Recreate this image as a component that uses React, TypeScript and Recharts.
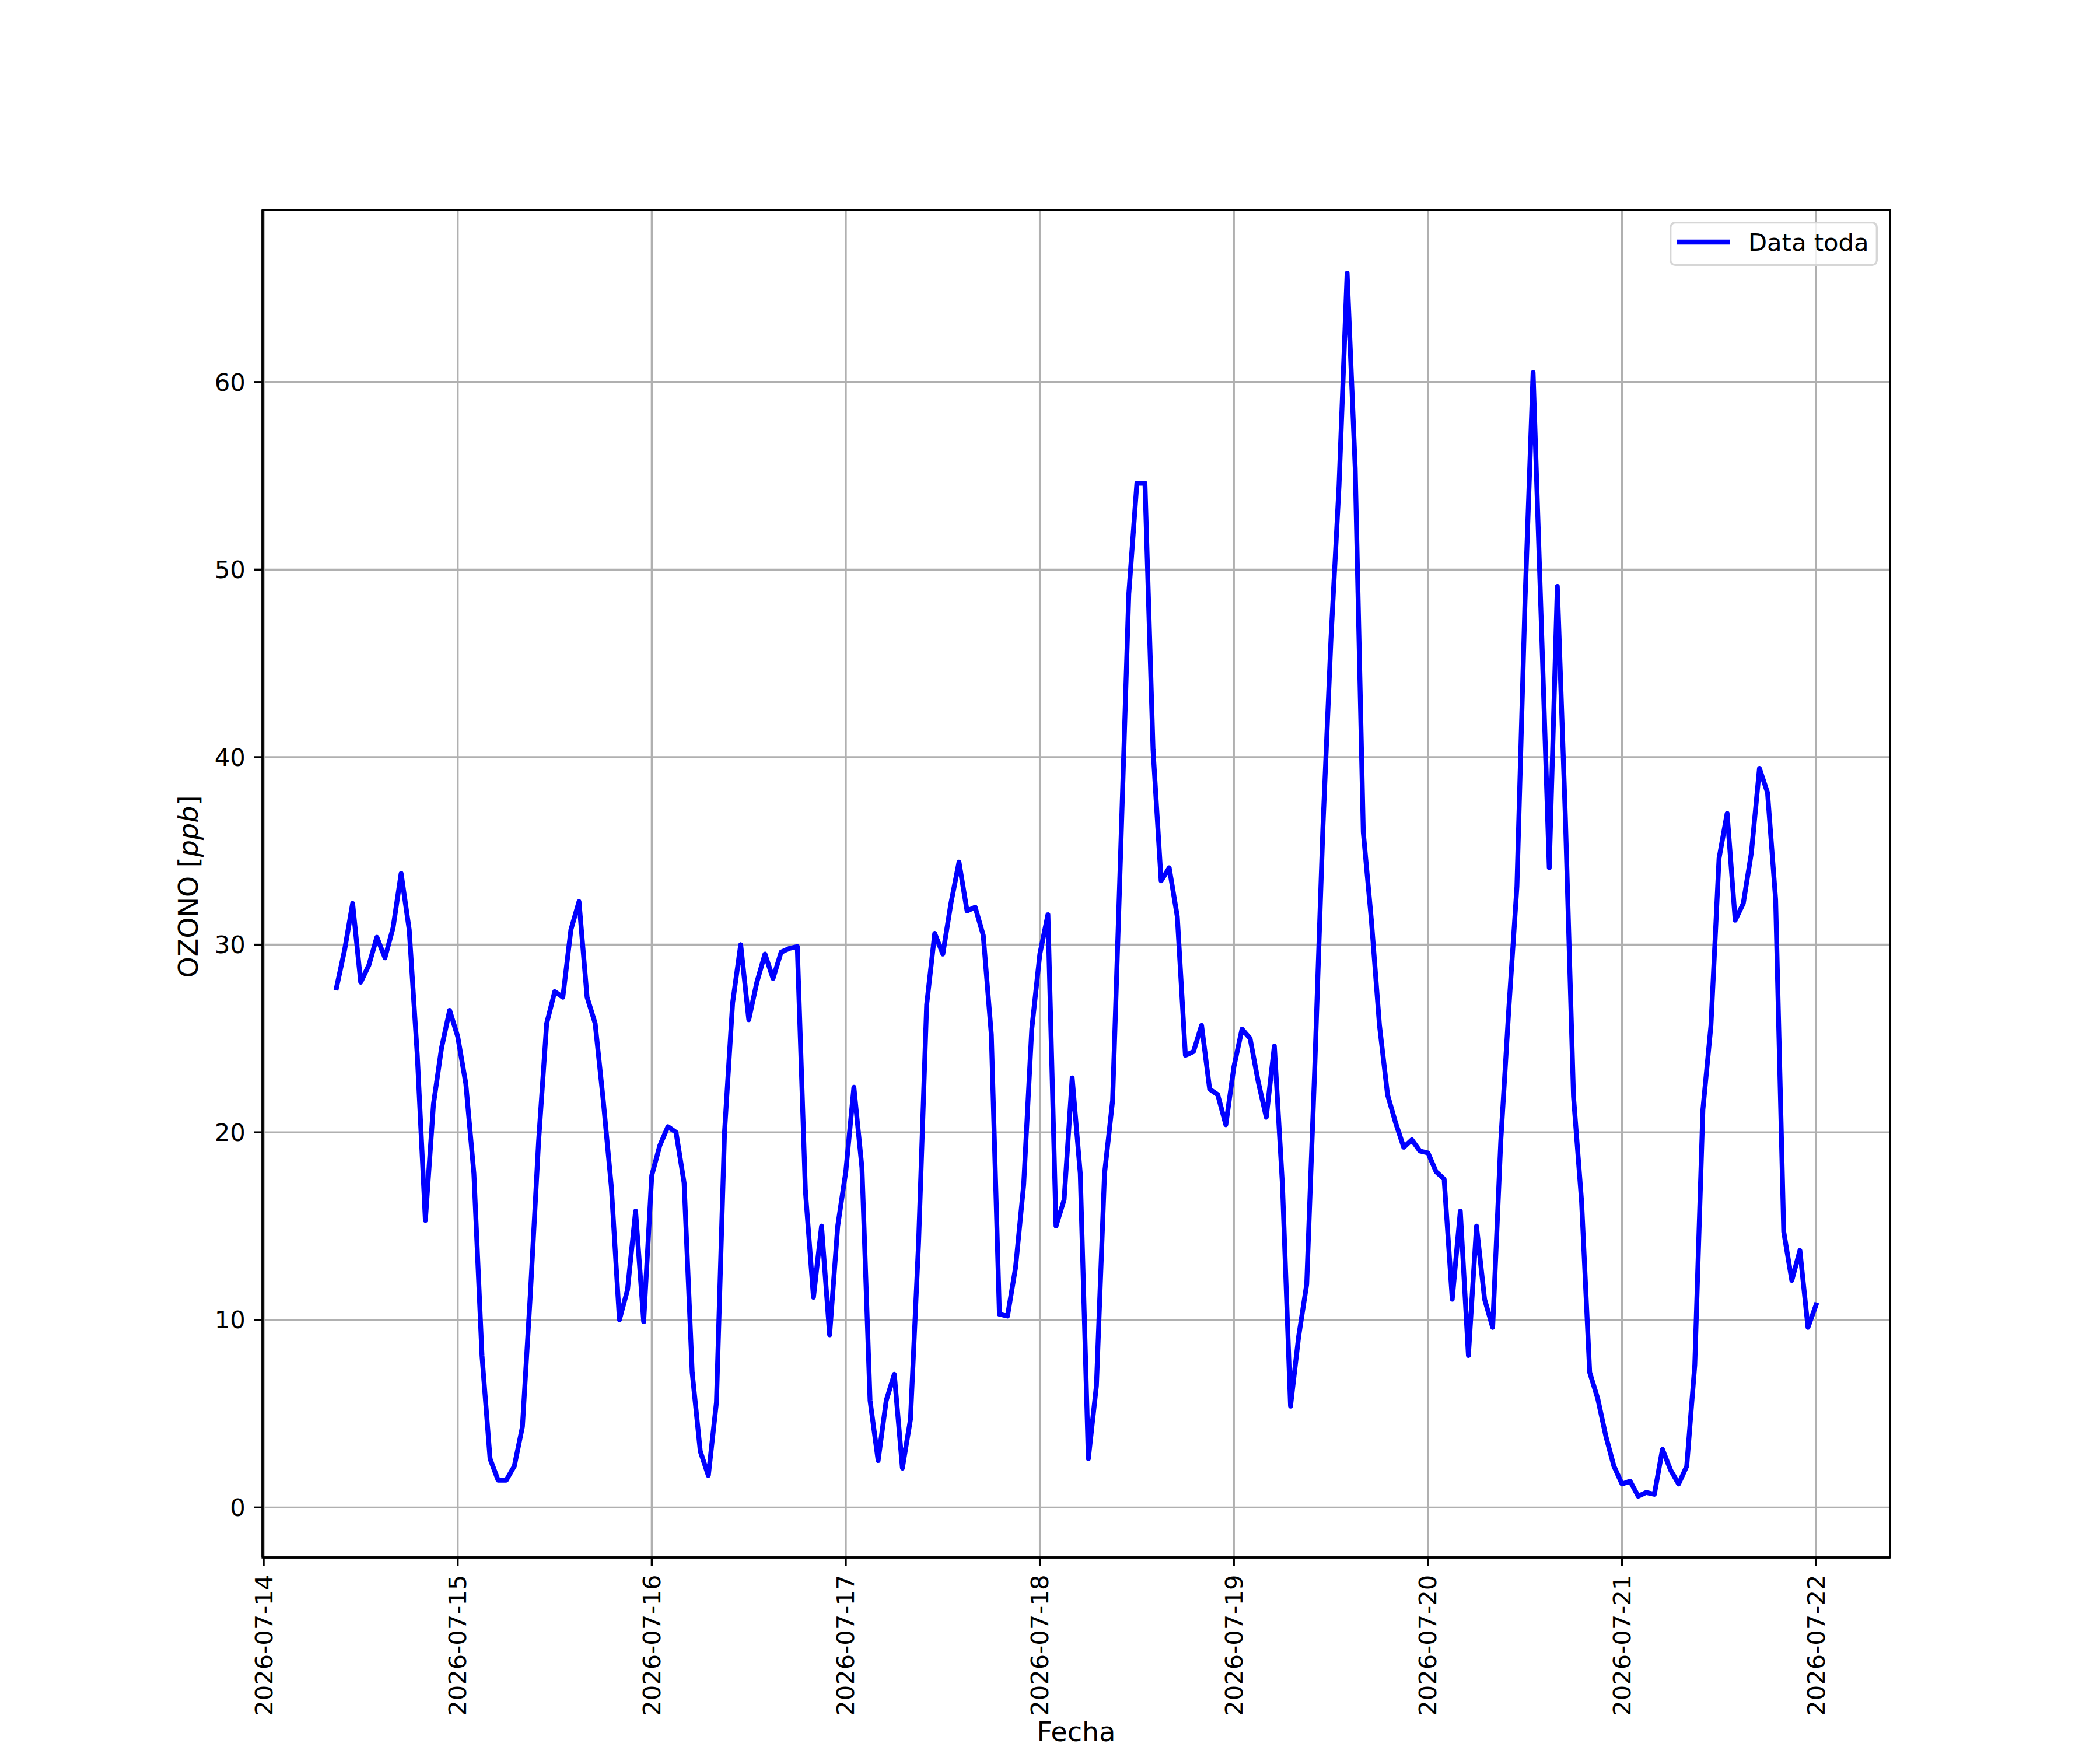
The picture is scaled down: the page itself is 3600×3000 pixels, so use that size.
import React from "react";
import {
  LineChart,
  Line,
  CartesianGrid,
  XAxis,
  YAxis,
  Legend,
  ReferenceArea
} from "recharts";

// hourly ozone readings, one array per day (first day starts at 09:00)
const firstHour = 9;
const ozono14 = [27.7, 29.7, 32.2, 28.0, 28.9, 30.4, 29.3, 30.9, 33.8, 30.8, 24.1, 15.3, 21.5, 24.5, 26.5];
const ozono15 = [25.1, 22.6, 17.8, 8.1, 2.6, 1.45, 1.45, 2.2, 4.3, 11.5, 19.5, 25.8, 27.5, 27.2, 30.8, 32.3, 27.2, 25.8, 21.7, 17.1, 10.0, 11.6, 15.8, 9.9];
const ozono16 = [17.7, 19.3, 20.3, 20.0, 17.3, 7.2, 3.0, 1.7, 5.6, 20.0, 26.9, 30.0, 26.0, 28.0, 29.5, 28.2, 29.6, 29.8, 29.9, 16.9, 11.2, 15.0, 9.2, 15.0];
const ozono17 = [17.9, 22.4, 18.1, 5.7, 2.5, 5.7, 7.1, 2.1, 4.7, 14.1, 26.8, 30.6, 29.5, 32.2, 34.4, 31.8, 32.0, 30.5, 25.2, 10.3, 10.2, 12.8, 17.2, 25.5];
const ozono18 = [29.5, 31.6, 15.0, 16.4, 22.9, 17.8, 2.6, 6.5, 17.8, 21.7, 35.0, 48.7, 54.6, 54.6, 40.4, 33.4, 34.1, 31.5, 24.1, 24.3, 25.7, 22.3, 22.0, 20.4];
const ozono19 = [23.5, 25.5, 25.0, 22.7, 20.8, 24.6, 17.2, 5.4, 9.1, 11.9, 23.5, 36.2, 46.3, 54.5, 65.8, 55.4, 36.0, 31.3, 25.7, 22.0, 20.5, 19.2, 19.6, 19.0];
const ozono20 = [18.9, 17.9, 17.5, 11.1, 15.8, 8.1, 15.0, 11.1, 9.6, 19.5, 26.6, 33.1, 48.3, 60.5, 47.4, 34.1, 49.1, 36.7, 21.9, 16.3, 7.2, 5.8, 3.8, 2.2];
const ozono21 = [1.25, 1.4, 0.6, 0.8, 0.7, 3.1, 2.0, 1.25, 2.2, 7.6, 21.2, 25.7, 34.6, 37.0, 31.3, 32.2, 34.9, 39.4, 38.1, 32.4, 14.7, 12.1, 13.7, 9.6];
const ozono22 = [10.8];

const dayLabels = [
  "2026-07-14",
  "2026-07-15",
  "2026-07-16",
  "2026-07-17",
  "2026-07-18",
  "2026-07-19",
  "2026-07-20",
  "2026-07-21",
  "2026-07-22"
];
const yTicks = [0, 10, 20, 30, 40, 50, 60];

const days = [ozono14, ozono15, ozono16, ozono17, ozono18, ozono19, ozono20, ozono21, ozono22];
const data = days.flatMap((vals, d) =>
  vals.map((v, i) => ({ t: d * 24 + (d === 0 ? firstHour : 0) + i, ozono: v }))
);
const xTicks = dayLabels.map((_, i) => i * 24);

// matplotlib-like 5% margins
const X_MIN = -0.15;
const X_MAX = 201.15;
const Y_MIN = -2.665;
const Y_MAX = 69.165;

const FONT = 41.67;
const LABEL_FONT = 46;
const FAMILY = "DejaVu Sans";
const LW = 3.33;

const DateTick = ({ x, y, payload }: any) => (
  <text
    x={x}
    y={y}
    transform={`rotate(-90, ${x}, ${y})`}
    textAnchor='end'
    dominantBaseline='central'
    fontSize={FONT}
    fontFamily={FAMILY}
    fill='#000'
  >
    {dayLabels[Math.round(payload.value / 24)]}
  </text>
);

const YLabel = () => (
  <text
    x={339}
    y={1520}
    transform='rotate(-90, 339, 1520)'
    textAnchor='middle'
    fontSize={LABEL_FONT}
    fontFamily={FAMILY}
    fill='#000'
  >
    OZONO [<tspan fontStyle='italic'>ppb</tspan>]
  </text>
);

const XLabel = () => (
  <text x={1845} y={2985} textAnchor='middle' fontSize={LABEL_FONT} fontFamily={FAMILY} fill='#000'>
    Fecha
  </text>
);

const LegendBox = () => (
  <svg width={357} height={76} style={{ display: "block" }}>
    <rect
      x={1.7}
      y={1.7}
      width={353.6}
      height={72.6}
      rx={8}
      fill='#fff'
      fillOpacity={0.8}
      stroke='#d6d6d6'
      strokeWidth={LW}
    />
    <line x1={12.5} x2={104} y1={35} y2={35} stroke='#0000ff' strokeWidth={8.33} />
    <text x={135} y={50} fontSize={FONT} fontFamily={FAMILY} fill='#000'>
      Data toda
    </text>
  </svg>
);

export default function App() {
  return (
    <div style={{ position: "absolute", left: 0, top: 0, width: 3600, height: 3000, background: "#fff" }}>
      <LineChart width={3600} height={3000} data={data} margin={{ top: 360, right: 360, bottom: 0, left: 0 }}>
        <CartesianGrid stroke='#b0b0b0' strokeWidth={LW} />

        <XAxis
          dataKey='t'
          type='number'
          domain={[X_MIN, X_MAX]}
          allowDataOverflow
          ticks={xTicks}
          interval={0}
          height={330}
          tickSize={14.6}
          tickMargin={15}
          tick={<DateTick />}
          tickLine={{ stroke: "#000", strokeWidth: LW }}
          axisLine={{ stroke: "#000", strokeWidth: LW }}
          label={{ content: XLabel }}
        />

        <YAxis
          type='number'
          domain={[Y_MIN, Y_MAX]}
          allowDataOverflow
          ticks={yTicks}
          interval={0}
          width={450}
          tickSize={14.6}
          tickMargin={14.6}
          tick={{ fontSize: FONT, fontFamily: FAMILY, fill: "#000" }}
          tickLine={{ stroke: "#000", strokeWidth: LW }}
          axisLine={{ stroke: "#000", strokeWidth: LW }}
          label={{ content: YLabel }}
        />

        <Legend
          layout='horizontal'
          verticalAlign='middle'
          align='center'
          content={LegendBox}
          wrapperStyle={{ position: "absolute", left: 2862, top: 380, width: 357, height: 76 }}
        />

        <Line
          type='linear'
          dataKey='ozono'
          stroke='#0000ff'
          strokeWidth={8.33}
          strokeLinejoin='round'
          strokeLinecap='square'
          dot={false}
          activeDot={false}
          name='Data toda'
          isAnimationActive={false}
        />

        {/* frame (spines) */}
        <ReferenceArea
          x1={X_MIN}
          x2={X_MAX}
          y1={Y_MIN}
          y2={Y_MAX}
          fill='none'
          stroke='#000'
          strokeWidth={LW}
          ifOverflow='visible'
        />
      </LineChart>
    </div>
  );
}
